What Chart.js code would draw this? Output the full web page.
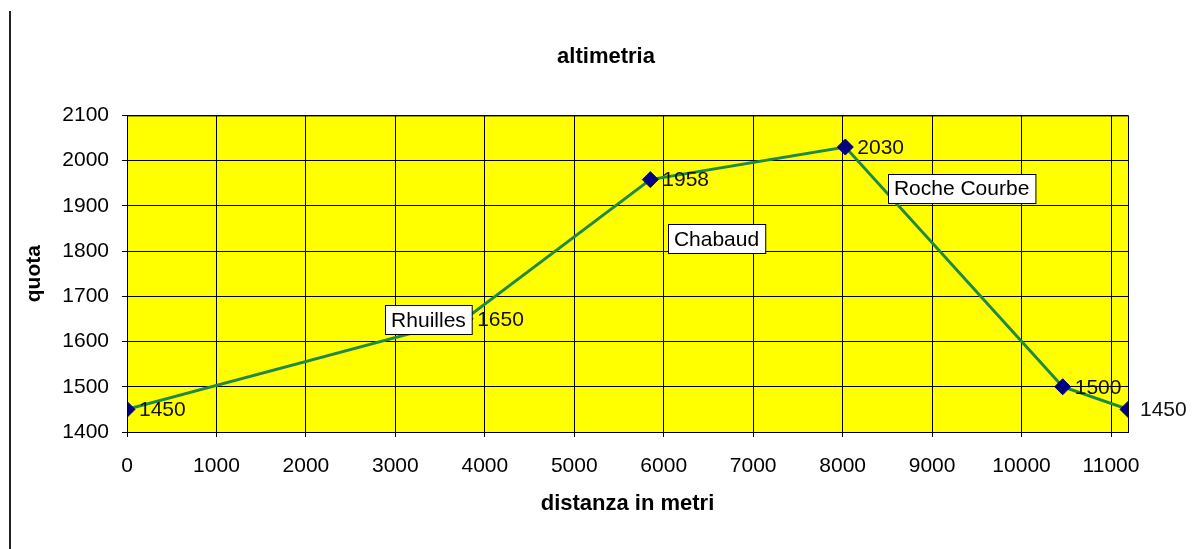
<!DOCTYPE html>
<html>
<head>
<meta charset="utf-8">
<title>altimetria</title>
<script src="https://cdn.jsdelivr.net/npm/chart.js@4.4.1/dist/chart.umd.min.js"></script>
<style>
    html, body { margin: 0; padding: 0; background: #fff; }
    #wrap { position: relative; width: 1192px; height: 549px; }
    #edge { position: absolute; left: 9px; top: 11px; width: 2px; height: 538px; background: #222; }
</style>
</head>
<body>
<div id="wrap">
    <div id="edge"></div>
    <canvas id="altChart" width="1192" height="549"></canvas>
</div>
<script>
// distance (m) and altitude (m) of each point
const distances = [0, 3780, 5850, 8030, 10460, 11190];
const altitudes = [1450, 1650, 1958, 2030, 1500, 1450];

// axis ticks
const xTicks = [0, 1000, 2000, 3000, 4000, 5000, 6000, 7000, 8000, 9000, 10000, 11000];
const yTicks = [1400, 1500, 1600, 1700, 1800, 1900, 2000, 2100];

// place-name boxes, in data units
const placeNames = ['Rhuilles', 'Chabaud', 'Roche Courbe'];
const placeX = [3370, 6590, 9330];
const placeY = [1648, 1827, 1938];

const fontFamily = "'Liberation Sans', Arial, sans-serif";
Chart.defaults.font.family = fontFamily;
Chart.defaults.color = '#000';

// yellow plot area + border, title nudged right like the original
const plotBackground = {
    id: 'plotBackground',
    afterLayout(chart) {
        chart.titleBlock.left += 74;
    },
    beforeDraw(chart) {
        const { ctx, chartArea: a } = chart;
        ctx.save();
        ctx.fillStyle = '#ffff00';
        ctx.fillRect(a.left, a.top, a.right - a.left, a.bottom - a.top);
        ctx.restore();
    },
    afterDraw(chart) {
        const { ctx, chartArea: a } = chart;
        ctx.save();
        ctx.strokeStyle = '#000';
        ctx.lineWidth = 1;
        ctx.strokeRect(a.left + 0.5, a.top + 0.5, a.right - a.left, a.bottom - a.top);
        ctx.restore();
    }
};

// value labels right of each point, then the name boxes on top
const labelsAndBoxes = {
    id: 'labelsAndBoxes',
    afterDatasetsDraw(chart) {
        const { ctx, scales } = chart;
        const meta = chart.getDatasetMeta(0);
        ctx.save();
        ctx.font = '21px ' + fontFamily;
        ctx.fillStyle = '#111';
        ctx.textAlign = 'left';
        ctx.textBaseline = 'middle';
        meta.data.forEach((pt, i) => {
            ctx.fillText(String(altitudes[i]), pt.x + 12, pt.y + 1);
        });

        placeNames.forEach((name, i) => {
            const cx = scales.x.getPixelForValue(placeX[i]);
            const cy = scales.y.getPixelForValue(placeY[i]);
            const w = ctx.measureText(name).width + 12;
            const h = 29;
            const x0 = Math.round(cx - w / 2) + 0.5;
            const y0 = Math.round(cy - h / 2) + 0.5;
            ctx.fillStyle = '#fff';
            ctx.fillRect(x0, y0, w, h);
            ctx.strokeStyle = '#000';
            ctx.lineWidth = 1;
            ctx.strokeRect(x0, y0, w, h);
            ctx.fillStyle = '#000';
            ctx.textAlign = 'center';
            ctx.fillText(name, cx, cy + 1);
        });
        ctx.restore();
    }
};

new Chart(document.getElementById('altChart'), {
    type: 'scatter',
    data: {
        datasets: [{
            label: 'quota',
            data: distances.map((d, i) => ({ x: d, y: altitudes[i] })),
            showLine: true,
            borderColor: '#1f8a45',
            borderWidth: 3,
            pointStyle: 'rectRot',
            pointRadius: 8,
            pointBackgroundColor: '#000080',
            pointBorderColor: '#000080',
            pointBorderWidth: 1
        }]
    },
    options: {
        responsive: false,
        animation: false,
        layout: { padding: { left: 10, right: 64, top: 0, bottom: 0 } },
        plugins: {
            legend: { display: false },
            tooltip: { enabled: false },
            title: {
                display: true,
                text: 'altimetria',
                color: '#000',
                font: { size: 22, weight: 'bold' },
                padding: { top: 44, bottom: 45 }
            }
        },
        scales: {
            x: {
                type: 'linear',
                min: 0,
                max: 11190,
                afterBuildTicks(scale) { scale.ticks = xTicks.map(v => ({ value: v })); },
                afterFit(scale) { scale.height = 117; },
                ticks: {
                    autoSkip: false, maxRotation: 0, minRotation: 0, padding: 17,
                    font: { size: 21 }, color: '#000',
                    callback: v => String(v)
                },
                grid: { color: '#000', lineWidth: 1, tickLength: 5 },
                border: { color: '#000' },
                title: {
                    display: true,
                    text: 'distanza in metri',
                    color: '#000',
                    font: { size: 22, weight: 'bold' },
                    padding: { top: 0, bottom: 32 }
                }
            },
            y: {
                min: 1400,
                max: 2100,
                afterBuildTicks(scale) { scale.ticks = yTicks.map(v => ({ value: v })); },
                afterFit(scale) { scale.width = 117; },
                ticks: {
                    autoSkip: false, padding: 13, font: { size: 21 }, color: '#000',
                    callback: v => String(v)
                },
                grid: { color: '#000', lineWidth: 1, tickLength: 5 },
                border: { color: '#000' },
                title: {
                    display: true,
                    text: 'quota',
                    color: '#000',
                    font: { size: 21, weight: 'bold' },
                    padding: { top: 12, bottom: 0 }
                }
            }
        }
    },
    plugins: [plotBackground, labelsAndBoxes]
});
</script>
</body>
</html>
